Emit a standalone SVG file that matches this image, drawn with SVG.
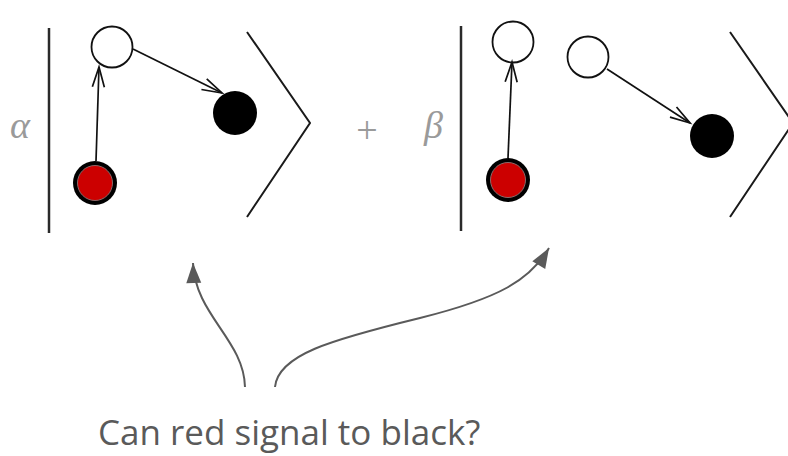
<svg xmlns="http://www.w3.org/2000/svg" width="788" height="456" viewBox="0 0 788 456">
  <defs>
    <marker id="open" markerUnits="userSpaceOnUse" markerWidth="24" markerHeight="16" refX="20" refY="6" orient="auto" overflow="visible">
      <path d="M0,0 L20,6 L0,12" fill="none" stroke="#111" stroke-width="1.7"/>
    </marker>
    <marker id="solid" markerUnits="userSpaceOnUse" markerWidth="24" markerHeight="18" refX="20" refY="7.5" orient="auto" overflow="visible">
      <path d="M0,0 L20,7.5 L0,15 z" fill="#5a5a5a"/>
    </marker>
  </defs>
  <style>
    .bar { stroke: #2a2a2a; stroke-width: 2.5; fill: none; }
    .ket { stroke: #1a1a1a; stroke-width: 2; fill: none; }
    .white { fill: #fff; stroke: #111; stroke-width: 1.8; }
    .black { fill: #000; }
    .redring { fill: #000; }
    .redcore { fill: #cc0000; stroke: #8a6a6a; stroke-width: 1; }
    .edge { stroke: #111; stroke-width: 1.7; fill: none; marker-end: url(#open); }
    .pointer { stroke: #5a5a5a; stroke-width: 2; fill: none; marker-end: url(#solid); }
    .coef { font-family: "Liberation Serif", serif; font-style: italic; font-size: 38px; fill: #9a9a9a; }
    .plus { font-family: "Liberation Serif", serif; font-size: 38px; fill: #9a9a9a; }
    .caption { font-family: "Open Sans", "Liberation Sans", sans-serif; font-size: 35px; fill: #5a5a5a; }
  </style>

  <!-- first term: alpha |...> -->
  <g id="term-alpha">
    <text class="coef" x="10" y="138">α</text>
    <line class="bar" x1="49" y1="28" x2="49" y2="233"/>
    <polyline class="ket" points="247,32 310,123 247,217"/>
  </g>
  <g id="a-white">
    <circle class="white" cx="112" cy="47" r="20.5"/>
  </g>
  <g id="a-red">
    <circle class="redring" cx="95" cy="183" r="22"/>
    <circle class="redcore" cx="95" cy="183" r="17.5"/>
  </g>
  <g id="a-black">
    <circle class="black" cx="235" cy="113" r="22"/>
  </g>

  <!-- second term: beta |...> -->
  <g id="plus">
    <text class="plus" x="367" y="143" text-anchor="middle">+</text>
  </g>
  <g id="term-beta">
    <text class="coef" x="424" y="138">β</text>
    <line class="bar" x1="461" y1="26" x2="461" y2="231"/>
    <polyline class="ket" points="730,32 793,123 730,217"/>
  </g>
  <g id="b-white1">
    <circle class="white" cx="513" cy="42" r="20.5"/>
  </g>
  <g id="b-red">
    <circle class="redring" cx="508" cy="180" r="22"/>
    <circle class="redcore" cx="508" cy="180" r="17.5"/>
  </g>
  <g id="b-white2">
    <circle class="white" cx="588" cy="57" r="20.5"/>
  </g>
  <g id="b-black">
    <circle class="black" cx="712" cy="136" r="22"/>
  </g>

  <!-- question -->
  <g id="question">
    <text class="caption" x="98" y="445">Can red signal to black?</text>
  </g>

  <g id="connectors">
    <line class="edge" x1="96" y1="161" x2="99" y2="67"/>
    <line class="edge" x1="133" y1="49" x2="222" y2="93"/>
    <line class="edge" x1="508" y1="158" x2="512" y2="62"/>
    <line class="edge" x1="607" y1="69" x2="690" y2="123"/>
    <path class="pointer" d="M245,387 C244,340 195,315 193,263"/>
    <path class="pointer" d="M275,387 C278,355 330,340 420,318 C500,298 530,280 549,248"/>
  </g>
</svg>
